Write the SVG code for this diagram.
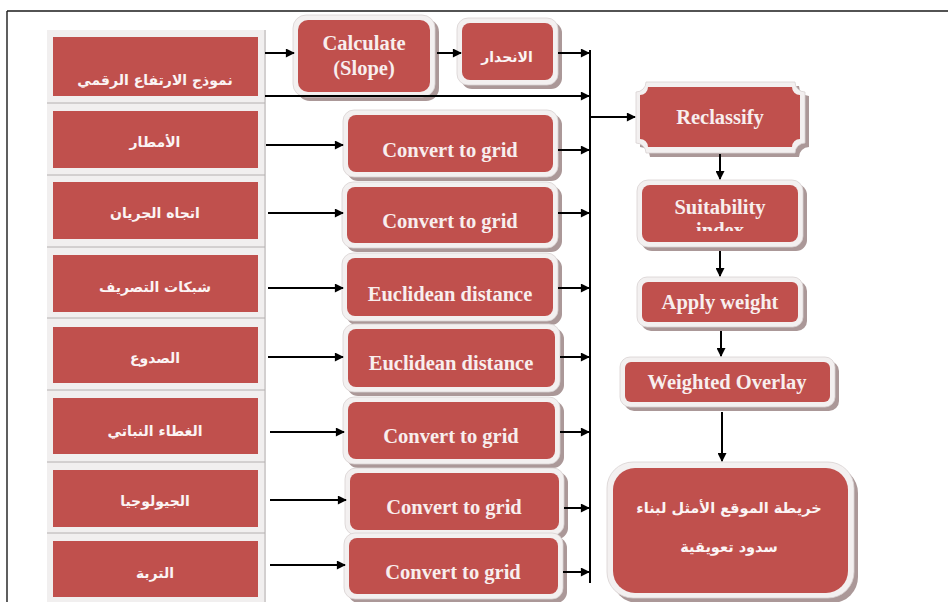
<svg xmlns="http://www.w3.org/2000/svg" width="948" height="602" viewBox="0 0 948 602">
<style>
.bg{fill:#ffffff}
.col{fill:#f1efef}
.sep{stroke:#b4b0b0;stroke-width:1}
.lb{fill:#c0504d}
.sh{fill:#ab9898}
.fr{fill:#f3f0f0;stroke:#d8d2d2;stroke-width:0.8}
.bx{fill:#c0504d}
.ar{font-family:"DejaVu Sans","Noto Sans",sans-serif;font-weight:bold;font-size:14px;fill:#fbf4f4;text-anchor:middle}
.en{font-family:"Liberation Serif","Times New Roman",serif;font-weight:bold;font-size:20.5px;fill:#f8eeee;text-anchor:middle}
.ln{stroke:#000;stroke-width:2;fill:none}
</style>
<defs>
<marker id="ah" viewBox="0 0 10 10" refX="9" refY="5" markerWidth="5" markerHeight="4.5" orient="auto" markerUnits="strokeWidth">
<path d="M0,0 L10,5 L0,10 z" fill="#000"/>
</marker>
<clipPath id="suitClip"><rect x="642" y="185" width="156" height="46"/></clipPath>
</defs>
<rect class="bg" x="0" y="0" width="948" height="602"/>
<g id="frame">
<path d="M7,11 H948" stroke="#1a1a1a" stroke-width="1.6"/>
<path d="M7,11 V602" stroke="#1a1a1a" stroke-width="1.4"/>
</g>
<g id="leftcolumn">
<rect class="col" x="47" y="30" width="219" height="572"/>
<path class="sep" d="M47,103 H265 M47,175 H265 M47,247 H265 M47,318 H265 M47,390 H265 M47,462 H265 M47,533 H265 M265,30 V602"/>
</g>
<g id="n_dem"><rect class="lb" x="53" y="37" width="205" height="59"/><text class="ar" x="155" y="85">نموذج الارتفاع الرقمي</text></g>
<g id="n_rain"><rect class="lb" x="53" y="111" width="205" height="57"/><text class="ar" x="155" y="147">الأمطار</text></g>
<g id="n_flow"><rect class="lb" x="53" y="182" width="205" height="57"/><text class="ar" x="155" y="218">اتجاه الجريان</text></g>
<g id="n_drain"><rect class="lb" x="53" y="255" width="205" height="57"/><text class="ar" x="155" y="292">شبكات التصريف</text></g>
<g id="n_fault"><rect class="lb" x="53" y="327" width="205" height="56"/><text class="ar" x="155" y="363">الصدوع</text></g>
<g id="n_veg"><rect class="lb" x="53" y="398" width="205" height="56"/><text class="ar" x="155" y="436">الغطاء النباتي</text></g>
<g id="n_geo"><rect class="lb" x="53" y="470" width="205" height="57"/><text class="ar" x="155" y="506">الجيولوجيا</text></g>
<g id="n_soil"><rect class="lb" x="53" y="541" width="205" height="56"/><text class="ar" x="155" y="578">التربة</text></g>

<g id="n_calc"><rect class="sh" x="297" y="19" width="142" height="82" rx="13"/><rect class="fr" x="293" y="15" width="142" height="82" rx="13"/><rect class="bx" x="298" y="20" width="132" height="72" rx="10"/><text class="en" x="364" y="50">Calculate</text><text class="en" x="364" y="75">(Slope)</text></g>
<g id="n_slope"><rect class="sh" x="461" y="22" width="101" height="67" rx="11"/><rect class="fr" x="457" y="18" width="101" height="67" rx="11"/><rect class="bx" x="462" y="23" width="91" height="57" rx="8"/><text class="ar" x="507" y="62">الانحدار</text></g>
<g id="n_cg1"><rect class="sh" x="347" y="114" width="215" height="67" rx="11"/><rect class="fr" x="343" y="110" width="215" height="67" rx="11"/><rect class="bx" x="348" y="115" width="205" height="57" rx="8"/><text class="en" x="450" y="157">Convert to grid</text></g>
<g id="n_cg2"><rect class="sh" x="346" y="186" width="216" height="66" rx="11"/><rect class="fr" x="342" y="182" width="216" height="66" rx="11"/><rect class="bx" x="347" y="187" width="206" height="56" rx="8"/><text class="en" x="450" y="228">Convert to grid</text></g>
<g id="n_eu1"><rect class="sh" x="346" y="257" width="216" height="68" rx="11"/><rect class="fr" x="342" y="253" width="216" height="68" rx="11"/><rect class="bx" x="347" y="258" width="206" height="58" rx="8"/><text class="en" x="450" y="301">Euclidean distance</text></g>
<g id="n_eu2"><rect class="sh" x="347" y="328" width="217" height="68" rx="11"/><rect class="fr" x="343" y="324" width="217" height="68" rx="11"/><rect class="bx" x="348" y="329" width="207" height="58" rx="8"/><text class="en" x="451" y="370">Euclidean distance</text></g>
<g id="n_cg3"><rect class="sh" x="347" y="401" width="217" height="67" rx="11"/><rect class="fr" x="343" y="397" width="217" height="67" rx="11"/><rect class="bx" x="348" y="402" width="207" height="57" rx="8"/><text class="en" x="451" y="443">Convert to grid</text></g>
<g id="n_cg4"><rect class="sh" x="349" y="472" width="219" height="67" rx="11"/><rect class="fr" x="345" y="468" width="219" height="67" rx="11"/><rect class="bx" x="350" y="473" width="209" height="57" rx="8"/><text class="en" x="454" y="514">Convert to grid</text></g>
<g id="n_cg5"><rect class="sh" x="348" y="537" width="219" height="66" rx="11"/><rect class="fr" x="344" y="533" width="219" height="66" rx="11"/><rect class="bx" x="349" y="538" width="209" height="56" rx="8"/><text class="en" x="453" y="579">Convert to grid</text></g>

<g id="n_reclass">
<path class="sh" d="M650,86 H799 A10,10 0 0 0 809,96 V147 A10,10 0 0 0 799,157 H650 A10,10 0 0 0 640,147 V96 A10,10 0 0 0 650,86 Z"/>
<path class="fr" d="M646,82 H795 A10,10 0 0 0 805,92 V143 A10,10 0 0 0 795,153 H646 A10,10 0 0 0 636,143 V92 A10,10 0 0 0 646,82 Z"/>
<path class="bx" d="M648,87 H792 A8,8 0 0 0 800,95 V139 A8,8 0 0 0 792,147 H648 A8,8 0 0 0 640,139 V95 A8,8 0 0 0 648,87 Z"/>
<text class="en" x="720" y="124">Reclassify</text>
</g>
<g id="n_suit"><rect class="sh" x="641" y="184" width="166" height="67" rx="11"/><rect class="fr" x="637" y="180" width="166" height="67" rx="11"/><rect class="bx" x="642" y="185" width="156" height="57" rx="8"/><text class="en" x="720" y="214">Suitability</text><text class="en" x="720" y="237" clip-path="url(#suitClip)">index</text></g>
<g id="n_apply"><rect class="sh" x="641" y="281" width="166" height="50" rx="10"/><rect class="fr" x="637" y="277" width="166" height="50" rx="10"/><rect class="bx" x="642" y="282" width="156" height="40" rx="6"/><text class="en" x="720" y="309">Apply weight</text></g>
<g id="n_overlay"><rect class="sh" x="624" y="361" width="215" height="50" rx="10"/><rect class="fr" x="620" y="357" width="215" height="50" rx="10"/><rect class="bx" x="625" y="362" width="205" height="40" rx="6"/><text class="en" x="727" y="389">Weighted Overlay</text></g>
<g id="n_final"><rect class="sh" x="612" y="467" width="246" height="136" rx="26"/><rect class="fr" x="607" y="462" width="247" height="136" rx="26"/><rect class="bx" x="613" y="468" width="235" height="125" rx="22"/><text class="ar" style="font-size:14.5px" x="729" y="513">خريطة الموقع الأمثل لبناء</text><text class="ar" style="font-size:14.5px" x="729" y="552">سدود تعويقية</text></g>

<g id="connectors">
<path class="ln" d="M590,50 V583"/>
<path class="ln" d="M265,53 H294" marker-end="url(#ah)"/>
<path class="ln" d="M437,53 H461" marker-end="url(#ah)"/>
<path class="ln" d="M558,53 H589" marker-end="url(#ah)"/>
<path class="ln" d="M265,96 H589" marker-end="url(#ah)"/>
<path class="ln" d="M266,145 H343" marker-end="url(#ah)"/>
<path class="ln" d="M558,150 H589" marker-end="url(#ah)"/>
<path class="ln" d="M268,213 H343" marker-end="url(#ah)"/>
<path class="ln" d="M268,288 H343" marker-end="url(#ah)"/>
<path class="ln" d="M268,357 H343" marker-end="url(#ah)"/>
<path class="ln" d="M270,432 H344" marker-end="url(#ah)"/>
<path class="ln" d="M270,500 H346" marker-end="url(#ah)"/>
<path class="ln" d="M270,565 H345" marker-end="url(#ah)"/>
<path class="ln" d="M558,213 H589" marker-end="url(#ah)"/>
<path class="ln" d="M558,288 H589" marker-end="url(#ah)"/>
<path class="ln" d="M560,357 H589" marker-end="url(#ah)"/>
<path class="ln" d="M560,432 H589" marker-end="url(#ah)"/>
<path class="ln" d="M564,508 H589" marker-end="url(#ah)"/>
<path class="ln" d="M563,572 H589" marker-end="url(#ah)"/>
<path class="ln" d="M590,117 H635" marker-end="url(#ah)"/>
<path class="ln" d="M720,154 V179" marker-end="url(#ah)"/>
<path class="ln" d="M720,251 V276" marker-end="url(#ah)"/>
<path class="ln" d="M721,331 V356" marker-end="url(#ah)"/>
<path class="ln" d="M722,412 V461" marker-end="url(#ah)"/>
</g>
</svg>
